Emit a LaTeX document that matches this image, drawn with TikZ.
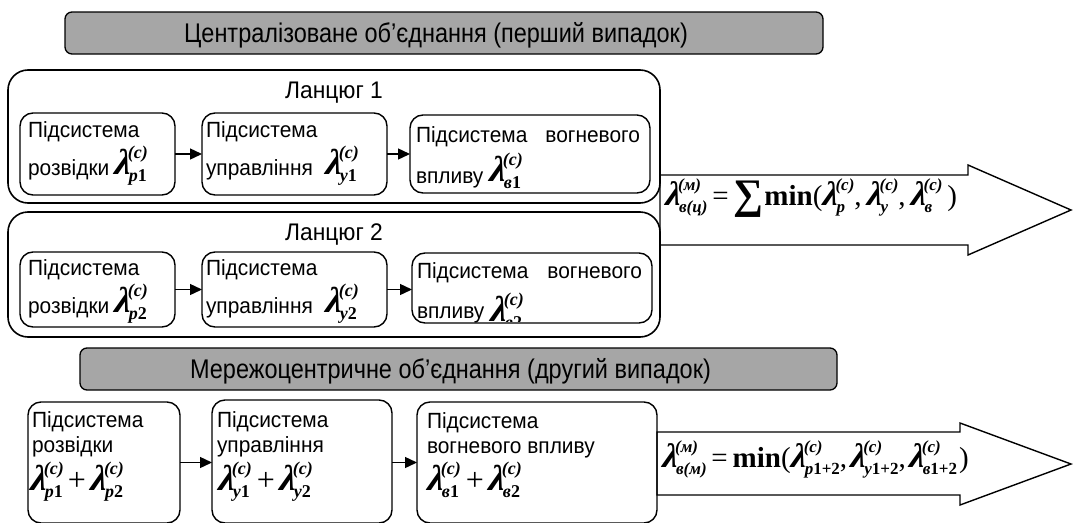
\documentclass[tikz,border=0pt]{standalone}
\usepackage{fontspec}
\setmainfont{Liberation Sans}
\newfontfamily\bodyfont[FakeStretch=0.95]{Liberation Sans}
\newfontfamily\narrowfont[FakeStretch=0.87]{Liberation Sans}
\newfontfamily\tnr{Liberation Serif}
\newfontfamily\lamfont[BoldItalicFeatures={FakeSlant=0.12}]{Liberation Serif}
\usetikzlibrary{arrows.meta,calc}
\definecolor{bannerfill}{RGB}{166,166,166}
% bold italic Times-like face for the symbols
\newcommand\bi{\tnr\bfseries\itshape}
% parameters of the lambda symbol (set per style)
\def\lamsize{36}\def\scrsize{18}
\def\supraise{16pt}\def\sublower{7pt}
\def\supkern{-2pt}\def\subkern{-1pt}
% lambda with stacked superscript and subscript
\newcommand\lam[2]{\mbox{%
  \setbox0\hbox{\lamfont\bfseries\itshape\fontsize{\lamsize}{\lamsize}\selectfont λ}%
  \setbox2\hbox{\bi\fontsize{\scrsize}{\scrsize}\selectfont(#1)}%
  \setbox4\hbox{\bi\fontsize{\scrsize}{\scrsize}\selectfont #2}%
  \copy0
  \kern\supkern\rlap{\raise\supraise\copy2}\kern-\supkern
  \kern\subkern\rlap{\lower\sublower\copy4}\kern-\subkern
  \dimen0=\wd2 \advance\dimen0\supkern
  \dimen2=\wd4 \advance\dimen2\subkern
  \ifdim\dimen0>\dimen2 \kern\dimen0 \else\kern\dimen2 \fi}}
\newcommand\up[1]{{\upshape #1}}
\newcommand\bigsum{\raisebox{-0.12em}{\tnr\bfseries\scalebox{1.45}{∑}}}
\newcommand\plus{\kern5pt{\fontsize{32}{32}\selectfont+}\kern4pt}
\begin{document}
\begin{tikzpicture}[x=1pt,y=-1pt,
  every node/.style={inner sep=0pt, outer sep=0pt},
  chainbox/.style={draw, line width=1.6pt, rounded corners=20pt, anchor=north west},
  subbox/.style={draw, line width=1.4pt, rounded corners=13pt, anchor=north west},
  banner/.style={draw, line width=1.3pt, fill=bannerfill, rounded corners=7pt,
    anchor=north west},
  bannertext/.style={font=\narrowfont\fontsize{27}{31}\selectfont},
  body/.style={font=\bodyfont\fontsize{22}{26}\selectfont, anchor=base west},
  chaintitle/.style={font=\bodyfont\fontsize{24}{28}\selectfont, anchor=base},
  lamtext/.style={font={\tnr\fontsize{26}{30}\selectfont}, anchor=base west},
  bigformula/.style={font={\tnr\fontsize{29}{33}\selectfont
    \def\lamsize{34}\def\scrsize{17}\def\supraise{15pt}\def\sublower{7pt}%
    \def\supkern{-2pt}\def\subkern{-1pt}}, anchor=base west},
  link/.style={line width=1.4pt, -{Triangle[length=12pt,width=11pt]}},
  bigarrow/.style={draw, line width=1.4pt, fill=white, line join=miter}]
\useasboundingbox (0,0) rectangle (1073,522);

% ---------- first case: centralised combination ----------
\node[banner, minimum width=758pt, minimum height=42pt] (ban1) at (65,12) {};
\node[bannertext] (ban1t) at ($(ban1.center)+(-8,2)$)
  {Централізоване об’єднання (перший випадок)};

% result arrow of the first case (drawn first, chain boxes lie on its left edge)
\draw[bigarrow] (660,175) -- (968,175) -- (968,165) -- (1071,210)
  -- (968,255) -- (968,245) -- (660,245) -- cycle;
\node[bigformula] (f1) at (665,205)
  {\lam{м}{в(ц)}\,=\,\bigsum\kern1pt\textbf{min}(\lam{с}{р},\,\lam{с}{у},\,\lam{с}{в}\,)};

% chain 1
\node[chainbox, minimum width=652pt, minimum height=133pt] (ch1) at (8,70) {};
\node[chaintitle] (ch1t) at (334,98) {Ланцюг 1};
\node[subbox, minimum width=155pt, minimum height=82pt] (b11) at (20,113) {};
\node[subbox, minimum width=185pt, minimum height=82pt] (b12) at (202,113) {};
\node[subbox, minimum width=240pt, minimum height=78pt] (b13) at (410,115) {};
\node[body] (t11a) at (28,137) {Підсистема};
\node[body] (t11b) at (28,175) {розвідки};
\node[lamtext] (l11) at (114,174) {\lam{с}{р\up{1}}};
\node[body] (t12a) at (206,137) {Підсистема};
\node[body] (t12b) at (206,175) {управління};
\node[lamtext] (l12) at (325,174) {\lam{с}{у\up{1}}};
\node[body] (t13a) at (416,142) {Підсистема};
\node[body, anchor=base east] (t13c) at (640,142) {вогневого};
\node[body] (t13b) at (416,183) {впливу};
\node[lamtext] (l13) at (489,181) {\lam{с}{в\up{1}}};
\draw[link] (b11.east) -- (b11.east -| b12.west);
\draw[link] (b12.east) -- (b12.east -| b13.west);

% chain 2
\node[chainbox, minimum width=652pt, minimum height=125pt] (ch2) at (8,212) {};
\node[chaintitle] (ch2t) at (334,240) {Ланцюг 2};
\node[subbox, minimum width=155pt, minimum height=75pt] (b21) at (20,252) {};
\node[subbox, minimum width=185pt, minimum height=75pt] (b22) at (202,252) {};
\node[subbox, minimum width=240pt, minimum height=70pt] (b23) at (412,253) {};
\node[body] (t21a) at (28,275) {Підсистема};
\node[body] (t21b) at (28,313) {розвідки};
\node[lamtext] (l21) at (114,312) {\lam{с}{р\up{2}}};
\node[body] (t22a) at (206,275) {Підсистема};
\node[body] (t22b) at (206,313) {управління};
\node[lamtext] (l22) at (325,312) {\lam{с}{у\up{2}}};
\node[body] (t23a) at (417,278) {Підсистема};
\node[body, anchor=base east] (t23c) at (642,278) {вогневого};
\node[body] (t23b) at (417,318) {впливу};
\begin{scope}
  \clip (413,254) rectangle (650,321);
  \node[lamtext] (l23) at (490,321) {\lam{с}{в\up{2}}};
\end{scope}
\draw[link] (b21.east) -- (b21.east -| b22.west);
\draw[link] (b22.east) -- (b22.east -| b23.west);

% ---------- second case: network-centric combination ----------
\node[banner, minimum width=757pt, minimum height=42pt] (ban2) at (80,348) {};
\node[bannertext] (ban2t) at ($(ban2.center)+(-8,2)$)
  {Мережоцентричне об’єднання (другий випадок)};

\draw[bigarrow] (657,432) -- (960,432) -- (960,423) -- (1071,464)
  -- (960,505) -- (960,495) -- (657,495) -- cycle;
\node[bigformula] (f2) at (662,467)
  {\lam{м}{в(м)}\,=\,\textbf{min}(\lam{с}{р\up{1+2}},\kern3pt\lam{с}{у\up{1+2}},\kern3pt\lam{с}{в\up{1+2}}\kern2pt)};

\node[subbox, minimum width=152pt, minimum height=121pt] (c1) at (28,402) {};
\node[subbox, minimum width=180pt, minimum height=123pt] (c2) at (212,400) {};
\node[subbox, minimum width=240pt, minimum height=121pt] (c3) at (417,402) {};
\node[body] (s1a) at (32,427) {Підсистема};
\node[body] (s1b) at (32,452) {розвідки};
\node[lamtext] (s1c) at (30,490) {\lam{с}{р\up{1}}\plus\lam{с}{р\up{2}}};
\node[body] (s2a) at (217,427) {Підсистема};
\node[body] (s2b) at (217,452) {управління};
\node[lamtext] (s2c) at (218,490) {\lam{с}{у\up{1}}\plus\lam{с}{у\up{2}}};
\node[body] (s3a) at (427,428) {Підсистема};
\node[body] (s3b) at (427,453) {вогневого впливу};
\node[lamtext] (s3c) at (427,490) {\lam{с}{в\up{1}}\plus\lam{с}{в\up{2}}};
\draw[link] (c1.east) -- (c1.east -| c2.west);
\draw[link] (c2.east |- c1.east) -- (c1.east -| c3.west);
\end{tikzpicture}
\end{document}
